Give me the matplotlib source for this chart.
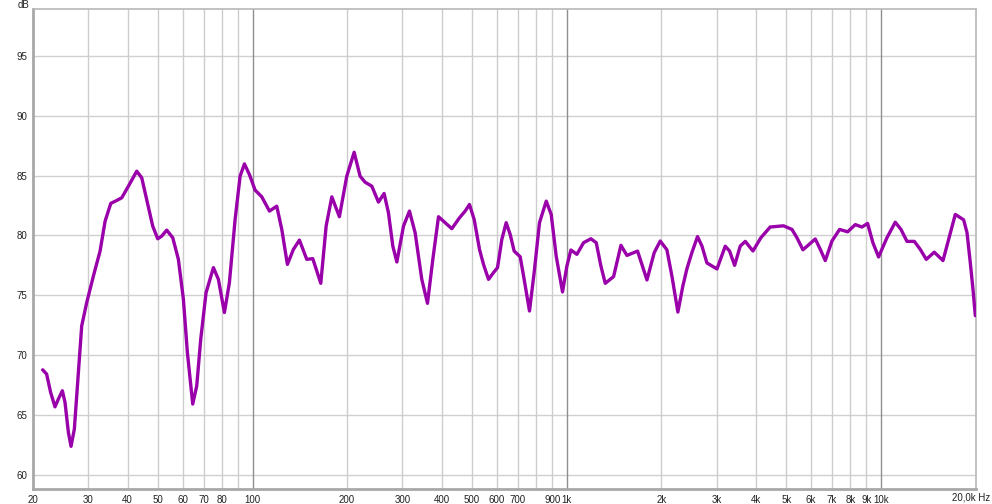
import matplotlib
matplotlib.use("Agg")
import matplotlib.pyplot as plt
from matplotlib.ticker import FixedLocator, NullFormatter

freq_hz = [21.47, 22.10, 22.76, 23.50, 24.08, 24.80, 25.29, 25.92, 26.43, 27.08,
           27.89, 28.58, 29.65, 31.14, 32.70, 33.93, 35.37, 36.96, 38.34, 40.25,
           42.78, 44.38, 46.03, 48.10, 49.89, 51.38, 53.30, 55.70, 58.06, 60.23,
           62.02, 64.50, 66.42, 68.39, 71.12, 75.06, 77.85, 81.35, 84.39, 88.0,
           91.27, 94.22, 97.73, 101.9, 107.0, 113.2, 119.4, 123.9, 129.1, 134.9,
           141.0, 148.8, 155.5, 164.9, 171.5, 178.8, 189.0, 199.5, 210.6, 220.0,
           228.2, 239.7, 251.7, 262.3, 270.8, 279.6, 288.0, 302.4, 315.9, 329.3,
           345.8, 360.5, 374.9, 390.8, 410.4, 430.9, 455.8, 475.2, 490.5, 507.7,
           527.9, 543.6, 563.9, 584.9, 602.4, 621.8, 641.9, 661.0, 680.6, 711.2,
           732.3, 761.5, 787.9, 819.4, 861.0, 892.9, 926.1, 970.1, 1001.6, 1031.5,
           1077.9, 1132.0, 1194.4, 1242.1, 1285.5, 1327.0, 1410.6, 1488.6, 1555.5,
           1681.6, 1801.4, 1899.9, 1985.4, 2085, 2163, 2260, 2344, 2414, 2504, 2610,
           2696, 2796, 3010, 3198, 3302, 3425, 3570, 3704, 3918, 4154, 4446, 4903,
           5215, 5408, 5653, 6188, 6420, 6658, 6992, 7395, 7844, 8297, 8712, 9080,
           9440, 9840, 10466, 11120, 11596, 12120, 12790, 13360, 13960, 14800,
           15780, 16450, 17270, 18360, 18820, 19280, 19660, 20000]
spl_db = [68.78, 68.42, 66.89, 65.69, 66.33, 67.03, 66.06, 63.56, 62.39, 63.83,
          68.56, 72.44, 74.39, 76.61, 78.69, 81.19, 82.67, 82.92, 83.14, 84.11,
          85.36, 84.81, 83.0, 80.78, 79.72, 79.94, 80.44, 79.81, 78.0, 74.67,
          70.22, 65.92, 67.44, 71.33, 75.22, 77.31, 76.33, 73.56, 76.06, 81.33,
          84.94, 85.97, 85.08, 83.78, 83.22, 82.03, 82.44, 80.5, 77.58, 78.83,
          79.61, 78.0, 78.06, 76.0, 80.78, 83.22, 81.56, 84.94, 86.94, 84.94,
          84.44, 84.11, 82.78, 83.5, 81.89, 79.11, 77.78, 80.78, 82.03, 80.22,
          76.33, 74.33, 78.0, 81.56, 81.06, 80.56, 81.47, 82.03, 82.58, 81.33,
          78.83, 77.58, 76.33, 76.89, 77.31, 79.67, 81.06, 80.08, 78.69, 78.22,
          76.33, 73.69, 76.89, 81.06, 82.86, 81.75, 78.28, 75.28, 77.44, 78.78,
          78.42, 79.39, 79.72, 79.39, 77.44, 76.0, 76.56, 79.17, 78.33,
          78.69, 76.28, 78.56, 79.53, 78.8, 76.61, 73.6, 75.78, 77.2, 78.56, 79.9,
          79.11, 77.7, 77.2, 79.1, 78.69, 77.5, 79.11, 79.5, 78.7, 79.81, 80.7, 80.8,
          80.5, 79.81, 78.8, 79.7, 78.83, 77.9, 79.53, 80.5, 80.3, 80.9, 80.7, 81.0,
          79.39, 78.2, 79.81, 81.1, 80.5, 79.5, 79.5, 78.83, 78.0, 78.6,
          77.9, 79.67, 81.75, 81.3, 80.22, 77.7, 75.5, 73.3]

minor_grid = [30, 40, 50, 60, 70, 80, 90, 200, 300, 400, 500, 600, 700, 800, 900,
              2000, 3000, 4000, 5000, 6000, 7000, 8000, 9000]
major_grid = [100, 1000, 10000]
x_tick_pos = [20, 30, 40, 50, 60, 70, 80, 100, 200, 300, 400, 500, 600, 700, 900,
              1000, 2000, 3000, 4000, 5000, 6000, 7000, 8000, 9000, 10000, 20000]
x_tick_lab = ["20", "30", "40", "50", "60", "70", "80", "100", "200", "300", "400",
              "500", "600", "700", "900", "1k", "2k", "3k", "4k", "5k", "6k", "7k",
              "8k", "9k", "10k", "20,0k Hz"]
y_ticks = [60, 65, 70, 75, 80, 85, 90, 95]

plt.rcParams['font.family'] = ['Liberation Sans', 'DejaVu Sans']
fig = plt.figure(figsize=(9.92, 5.04), dpi=100)
W, H = 992, 504
ax = fig.add_axes([33 / W, (H - 489) / H, (976 - 33) / W, (489 - 9) / H])
ax.set_xscale('log')
ax.set_xlim(20, 20100)
ax.set_ylim(58.83, 98.9)

for g in y_ticks:
    ax.axhline(g, color='#d0d0d0', lw=1.0, zorder=1)
for g in minor_grid:
    ax.axvline(g, color='#cdcdcd', lw=1.0, zorder=1)
for g in major_grid:
    ax.axvline(g, color='#8f8f8f', lw=1.0, zorder=1)

ax.plot(freq_hz, spl_db, color='#9900aa', lw=2.4, solid_joinstyle='round',
        solid_capstyle='round', antialiased=True, zorder=3)

ax.xaxis.set_major_locator(FixedLocator(x_tick_pos))
ax.set_xticklabels(x_tick_lab[:-1] + [""])
ax.xaxis.set_minor_formatter(NullFormatter())
ax.xaxis.set_minor_locator(FixedLocator([]))
ax.set_yticks(y_ticks)
ax.tick_params(axis='both', length=0, labelsize=7, colors='#222222', pad=4)

for s in ax.spines.values():
    s.set_color('#b8b8b8')
    s.set_linewidth(1.2)
ax.spines['left'].set_linewidth(2.0)
ax.spines['bottom'].set_linewidth(2.0)
ax.spines['left'].set_color('#a8a8a8')
ax.spines['bottom'].set_color('#a8a8a8')

fig.text(990 / W, 1 - 498 / H, x_tick_lab[-1], fontsize=7, color='#222222',
         va='center', ha='right')
fig.text(18 / W, 1.0, "dB", fontsize=7, color='#222222', va='top', ha='left')

fig.savefig("out.png", dpi=100, facecolor='white')
